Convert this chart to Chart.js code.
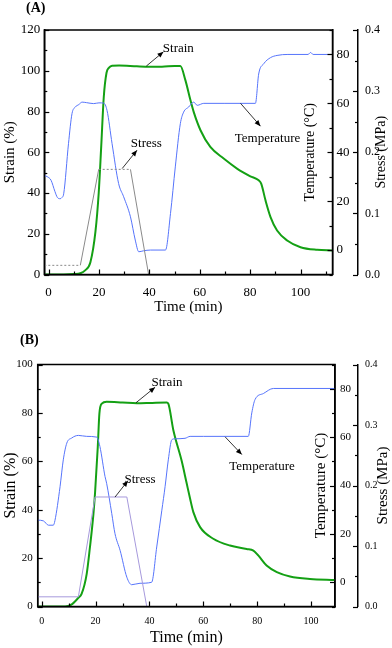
<!DOCTYPE html>
<html>
<head>
<meta charset="utf-8">
<script src="https://cdn.jsdelivr.net/npm/chart.js@4.4.1/dist/chart.umd.min.js"></script>
<style>
  body { margin: 0; background: #fff; }
  #wrap { position: relative; width: 392px; height: 648px; }
  .box { position: absolute; left: 0; width: 392px; }
  .tag { position: absolute; font: bold 14px "Liberation Serif", "Times New Roman", serif; line-height: 14px; }
</style>
</head>
<body>
<div id="wrap">
  <div class="box" style="top:0;height:322px"><canvas id="chartA"></canvas></div>
  <div class="box" style="top:322px;height:326px"><canvas id="chartB"></canvas></div>
  <div class="tag" style="left:26px;top:1px">(A)</div>
  <div class="tag" style="left:20px;top:333px">(B)</div>
</div>
<script>
const FONT = '"Liberation Serif", "Times New Roman", serif';

// tick values
const timeTicks = [0, 20, 40, 60, 80, 100];
const strainTicksA = [0, 20, 40, 60, 80, 100, 120];
const strainTicksB = [0, 20, 40, 60, 80, 100];
const tempTicks = [0, 20, 40, 60, 80];
const stressTicks = [0, 0.1, 0.2, 0.3, 0.4];

// ---- panel A data (time in min) ----
const strainTimeA = [-1.7, 6, 10, 12.6, 14.5, 16.6, 18.6, 19.9, 20.9, 21.9, 23, 24, 25.2, 28, 35, 40, 45, 50, 52.3,
  54.3, 56.3, 57.6, 60.3, 64.2, 69.5, 74.8, 80.1, 83.4, 84.4, 86.1, 88.1, 90.7, 94.7, 100, 106.6, 112.7];
const strainA = [0, 0, 0.2, 0.6, 2, 6, 21, 40, 63, 87, 99, 101.5, 102.5, 102.6, 102.2, 102, 102, 102.3, 102.3,
  95.4, 85.6, 79.8, 70.8, 62.6, 56.9, 52, 48.2, 46.2, 44.6, 36.4, 28.2, 21.6, 16.7, 13.4, 12.1, 11.8];
const tempTimeA = [-1.7, -0.5, 1, 2.5, 3.5, 4.6, 5.3, 6, 7.9, 9.3, 10.6, 12, 13.3, 15, 17.9, 20, 21.9, 23.2, 25.2,
  27.8, 29.8, 32.5, 34.4, 35.8, 37.7, 40.4, 46.4, 48.4, 50.3, 52.3, 53.6, 55.6, 57.6, 59, 61.6, 70, 82.1, 83.4,
  85.4, 88.1, 90.7, 95, 103, 104, 105, 112.7];
const tempA = [30.5, 30, 28.5, 24, 21.5, 21, 21.5, 23, 43.5, 55.8, 58.5, 59.5, 60.5, 60.3, 59.9, 60.2, 60.1, 57.1, 43.5,
  27.2, 21.8, 13.6, 4.1, -0.7, -0.3, 0, 0, 15, 34, 51.7, 56.4, 58.5, 60.5, 59.2, 60, 60, 60, 72,
  76.2, 78.7, 79.6, 80, 80, 80.8, 80, 80];
const stressTimeA = [-1.7, 12.6, 19.9, 32.5, 39.7];
const stressA = [0.015, 0.015, 0.172, 0.172, 0];

// ---- panel B data ----
const strainTimeB = [-1.5, 8.7, 11, 13.6, 14.8, 16.7, 17.9, 19.2, 19.8, 20.8, 21.4, 22.3, 24.1, 30, 35.3, 40, 46.4, 47,
  48.9, 52, 53.8, 55.1, 56.3, 58.8, 63.7, 69.9, 76.1, 78.6, 80.4, 83.5, 87.3, 92.2, 99.6, 108.9];
const strainB = [0, 0, 0.8, 3.6, 5.2, 13.5, 24.5, 38.3, 47, 65.8, 79.6, 83.8, 84.6, 84.3, 84, 84.1, 84.3, 83.8,
  72.7, 60, 51, 44.5, 39, 32.8, 28, 25.2, 23.8, 23.1, 21.1, 16.9, 14.2, 12.4, 11.4, 11];
const tempTimeB = [-1.5, 0.6, 2.5, 4.3, 4.9, 6.8, 8, 9.3, 11.1, 13.6, 16.7, 20.4, 21.6, 23.5, 24.1, 26, 27.2, 29.1,
  31.6, 33.4, 36.5, 40.8, 42.7, 44.6, 45.8, 47, 48.3, 49.5, 53.2, 55.1, 60, 76.7, 78, 79.2, 82.3, 86, 108.9];
const tempB = [25.7, 25.4, 23.6, 23.6, 25.5, 39.5, 50.6, 57.5, 59.6, 60.7, 60.3, 60, 56.1, 43.7, 40.9, 28.4, 20.1, 13.2,
  2.1, -1, -0.4, 0, 14.6, 29.8, 39.5, 50.6, 58.9, 59.3, 59.5, 60.3, 60.3, 60.3, 70, 75.5, 78, 80.1, 80.1];
const stressTimeB = [-1.5, 13.6, 19.8, 31.6, 39, 108.9];
const stressB = [0.016, 0.016, 0.181, 0.181, 0, 0];

const pts = (xs, ys) => xs.map((x, i) => ({ x: x, y: ys[i] }));
const setTicks = list => s => { s.ticks = list.map(v => ({ value: v })); };

// inward major/minor ticks, Origin style
const inTicks = {
  id: 'inTicks',
  afterDraw(chart) {
    const ctx = chart.ctx;
    ctx.save();
    ctx.strokeStyle = '#000';
    ctx.lineWidth = 1.2;
    Object.values(chart.scales).forEach(s => {
      const vals = s.ticks.map(t => t.value);
      if (vals.length < 2) return;
      const step = vals[1] - vals[0];
      const marks = vals.map(v => [v, 5]);
      for (let v = vals[0] - step / 2; v <= s.max + 1e-9; v += step) {
        if (v >= s.min - 1e-9) marks.push([v, 3]);
      }
      marks.forEach(([v, len]) => {
        const p = Math.round(s.getPixelForValue(v)) + 0.5;
        ctx.beginPath();
        if (s.position === 'bottom') { ctx.moveTo(p, s.top); ctx.lineTo(p, s.top - len); }
        else if (s.position === 'left') { ctx.moveTo(s.right, p); ctx.lineTo(s.right + len, p); }
        else { ctx.moveTo(s.left, p); ctx.lineTo(s.left - len, p); }
        ctx.stroke();
      });
    });
    ctx.restore();
  }
};

// frame, right-hand titles and arrow labels
const extras = {
  id: 'extras',
  afterDraw(chart, args, o) {
    const ctx = chart.ctx, a = chart.chartArea;
    const xs = chart.scales.x, ys = chart.scales.y;
    ctx.save();
    ctx.strokeStyle = '#000';
    ctx.lineWidth = 1.5;
    ctx.strokeRect(a.left, a.top, a.right - a.left, a.bottom - a.top);

    const midY = (a.top + a.bottom) / 2;
    ctx.fillStyle = '#000';
    ctx.textAlign = 'center';
    ctx.textBaseline = 'middle';
    [[o.tempX, 'Temperature (°C)'], [o.stressX, 'Stress (MPa)']].forEach(([x, t]) => {
      ctx.save();
      ctx.translate(x, midY);
      ctx.rotate(-Math.PI / 2);
      ctx.font = o.titleSize + 'px ' + FONT;
      ctx.fillText(t, 0, 0);
      ctx.restore();
    });

    ctx.font = '13px ' + FONT;
    ctx.lineWidth = 0.8;
    o.notes.forEach(n => {
      const x0 = xs.getPixelForValue(n.from[0]), y0 = ys.getPixelForValue(n.from[1]);
      const x1 = xs.getPixelForValue(n.to[0]), y1 = ys.getPixelForValue(n.to[1]);
      ctx.beginPath();
      ctx.moveTo(x0, y0);
      ctx.lineTo(x1, y1);
      ctx.stroke();
      const ang = Math.atan2(y1 - y0, x1 - x0);
      ctx.beginPath();
      ctx.moveTo(x1, y1);
      ctx.lineTo(x1 - 6 * Math.cos(ang) + 2.5 * Math.sin(ang), y1 - 6 * Math.sin(ang) - 2.5 * Math.cos(ang));
      ctx.lineTo(x1 - 6 * Math.cos(ang) - 2.5 * Math.sin(ang), y1 - 6 * Math.sin(ang) + 2.5 * Math.cos(ang));
      ctx.closePath();
      ctx.fill();
      ctx.fillText(n.text, xs.getPixelForValue(n.at[0]), ys.getPixelForValue(n.at[1]));
    });
    ctx.restore();
  }
};

function axisFont(size) { return { family: FONT, size: size }; }

function buildChart(id, p) {
  const noGrid = { display: false, drawTicks: false };
  return new Chart(document.getElementById(id), {
    type: 'line',
    plugins: [inTicks, extras],
    data: {
      datasets: [
        {
          label: 'Stress', data: pts(p.stressT, p.stress), yAxisID: 'yS',
          borderColor: p.stressColor, borderWidth: 1, pointRadius: 0, tension: 0,
          segment: {
            borderDash: c => (p.dotted && c.p0.parsed.y === c.p1.parsed.y) ? [2, 2] : undefined
          }
        },
        {
          label: 'Temperature', data: pts(p.tempT, p.temp), yAxisID: 'yT',
          borderColor: '#5674fb', borderWidth: 1, pointRadius: 0, cubicInterpolationMode: 'monotone'
        },
        {
          label: 'Strain', data: pts(p.strainT, p.strain), yAxisID: 'y',
          borderColor: '#14a014', borderWidth: 2, pointRadius: 0, cubicInterpolationMode: 'monotone'
        }
      ]
    },
    options: {
      responsive: true,
      maintainAspectRatio: false,
      animation: false,
      layout: { padding: { top: p.padTop, left: 0, right: 0, bottom: 0 } },
      plugins: {
        legend: { display: false },
        tooltip: { enabled: false },
        extras: { tempX: p.tempX, stressX: p.stressX, titleSize: p.titleSize - 1, notes: p.notes }
      },
      scales: {
        x: {
          type: 'linear', position: 'bottom', min: p.xMin, max: p.xMax,
          afterBuildTicks: setTicks(timeTicks),
          afterFit: s => { s.height = p.xH; },
          grid: noGrid,
          border: { color: '#000', width: 1.5 },
          ticks: { autoSkip: false, maxRotation: 0, padding: p.xPad, color: '#000', font: axisFont(p.xTick) },
          title: { display: true, text: 'Time (min)', color: '#000', font: axisFont(p.titleSize), padding: { top: 0, bottom: p.xTitlePad } }
        },
        y: {
          position: 'left', min: 0, max: p.yTicks[p.yTicks.length - 1],
          afterBuildTicks: setTicks(p.yTicks),
          afterFit: s => { s.width = p.yW; },
          grid: noGrid,
          border: { color: '#000', width: 1.5 },
          ticks: { autoSkip: false, padding: p.yPad, color: '#000', font: axisFont(p.yTick) },
          title: { display: true, text: 'Strain (%)', color: '#000', font: axisFont(p.titleSize), padding: { top: 1, bottom: 0 } }
        },
        yT: {
          position: 'right', weight: 0, min: -10, max: 90,
          afterBuildTicks: setTicks(tempTicks),
          afterFit: s => { s.width = p.tW; },
          grid: noGrid,
          border: { color: '#000', width: 1.5 },
          ticks: { autoSkip: false, padding: p.tPad, color: '#000', font: axisFont(p.yTick) }
        },
        yS: {
          position: 'right', weight: 1, min: 0, max: 0.4,
          afterBuildTicks: setTicks(stressTicks),
          afterFit: s => { s.width = 392 - p.sX; },
          grid: noGrid,
          border: { color: '#000', width: 1.5 },
          ticks: { autoSkip: false, padding: 7, color: '#000', font: axisFont(p.sTick),
            callback: v => v.toFixed(1) }
        }
      }
    }
  });
}

buildChart('chartA', {
  strainT: strainTimeA, strain: strainA, tempT: tempTimeA, temp: tempA,
  stressT: stressTimeA, stress: stressA, stressColor: '#8a8a8a', dotted: true,
  xMin: -1.7, xMax: 112.7, yTicks: strainTicksA,
  padTop: 30, xH: 47.5, yW: 44.3, tW: 25.5, sX: 358,
  xPad: 10, yPad: 4, tPad: 4, xTitlePad: 6,
  xTick: 13, yTick: 13, sTick: 12, titleSize: 15,
  tempX: 310, stressX: 381.5,
  notes: [
    { text: 'Strain', from: [38.8, 102.3], to: [45.6, 109.3], at: [51.5, 110.7] },
    { text: 'Stress', from: [29.2, 52], to: [35.1, 61], at: [38.8, 64.4] },
    { text: 'Temperature', from: [76.2, 84], to: [84.1, 72.8], at: [86.9, 66.9] }
  ]
});

buildChart('chartB', {
  strainT: strainTimeB, strain: strainB, tempT: tempTimeB, temp: tempB,
  stressT: stressTimeB, stress: stressB, stressColor: '#a699dc', dotted: false,
  xMin: -1.5, xMax: 108.9, yTicks: strainTicksB,
  padTop: 42.5, xH: 41.5, yW: 37.7, tW: 23, sX: 358,
  xPad: 9, yPad: 5, tPad: 5, xTitlePad: 1,
  xTick: 10, yTick: 11, sTick: 10, titleSize: 16,
  tempX: 321, stressX: 383.5,
  notes: [
    { text: 'Strain', from: [35, 84.2], to: [42.1, 90.6], at: [46.5, 92.6] },
    { text: 'Stress', from: [27.2, 45.2], to: [32, 52], at: [36.5, 52.5] },
    { text: 'Temperature', from: [68.1, 70.1], to: [74.3, 62.8], at: [81.8, 57.9] }
  ]
});
</script>
</body>
</html>
